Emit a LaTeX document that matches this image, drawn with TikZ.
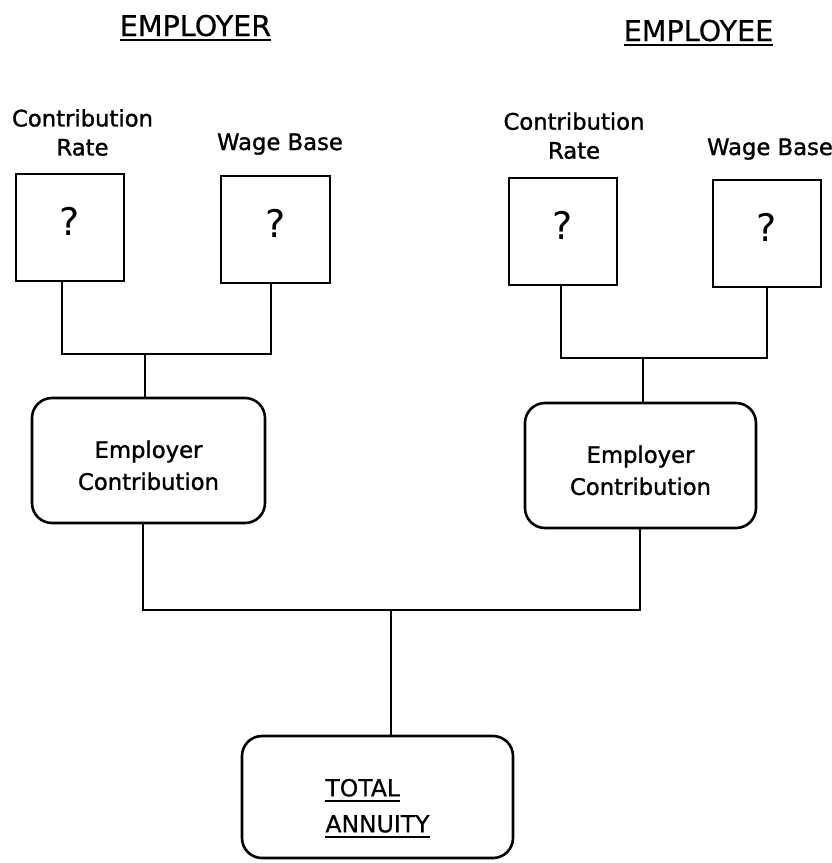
\documentclass[tikz,border=0pt]{standalone}
\usepackage{fontspec}
\setmainfont{DejaVu Sans}
\newfontfamily\lblfont{DejaVu Sans}[FakeBold=1.3]
\newfontfamily\ttlfont{DejaVu Sans}[FakeBold=0.6]
\newcommand\myul[1]{\leavevmode\vtop{\hbox{#1}\kern3pt\hrule height 2pt}}
\begin{document}
\begin{tikzpicture}[x=1pt,y=-1pt,
  sqbox/.style={draw, line width=2.6pt, minimum width=108pt, minimum height=107pt,
    inner sep=0pt, text depth=13pt, font=\fontsize{38}{38}\selectfont},
  rbox/.style={draw, line width=2.6pt, rounded corners=20pt, minimum height=125pt,
    inner sep=0pt, align=center, font=\lblfont\fontsize{22.7}{32}\selectfont},
  lbl/.style={inner sep=0pt, align=center, font=\lblfont\fontsize{22.7}{29}\selectfont},
  ttl/.style={inner sep=0pt, anchor=base, font=\ttlfont\fontsize{28.6}{30}\selectfont},
  conn/.style={line width=2.6pt}
]
\useasboundingbox (0,0) rectangle (832,863);

% titles
\node[ttl] (t1) at (195.5,36) {\myul{EMPLOYER}};
\node[ttl] (t2) at (698.5,41) {\myul{EMPLOYEE}};

% labels
\node[lbl] (l1) at (82.5,132.5) {Contribution\\Rate};
\node[lbl, anchor=base] (l2) at (280,150) {Wage Base};
\node[lbl] (l3) at (574,135.7) {Contribution\\Rate};
\node[lbl, anchor=base] (l4) at (770,155) {Wage Base};

% squares
\node[sqbox] (sq1) at (70,227.5) {?};
\node[sqbox, minimum width=109pt] (sq2) at (275.5,229.5) {?};
\node[sqbox] (sq3) at (563,231.5) {?};
\node[sqbox] (sq4) at (767,233.5) {?};

% contribution boxes
\node[rbox, minimum width=233pt] (r1) at (148.5,460.5) {\rule{0pt}{27pt}Employer\\Contribution};
\node[rbox, minimum width=231pt] (r2) at (640.5,465.5) {\rule{0pt}{27pt}Employer\\Contribution};

% total box
\node[rbox, minimum width=271pt, minimum height=122pt, align=left,
  font=\ttlfont\fontsize{23.5}{36}\selectfont] (r3) at (377.5,797)
  {\rule{0pt}{40pt}\myul{TOTAL}\\\myul{ANNUITY}};

% junction coordinates
\coordinate (h1l) at (62,354);
\coordinate (h1r) at (271,354);
\coordinate (j1) at (145,354);
\coordinate (h2l) at (561,358);
\coordinate (h2r) at (767,358);
\coordinate (j2) at (643,358);
\coordinate (b1) at (143,610);
\coordinate (b2) at (640,610);
\coordinate (j3) at (391,610);

% connectors
\draw[conn] (sq1.south -| h1l) -- (h1l) -- (h1r) -- (sq2.south -| h1r);
\draw[conn] (j1) -- (r1.north -| j1);
\draw[conn] (sq3.south -| h2l) -- (h2l) -- (h2r) -- (sq4.south -| h2r);
\draw[conn] (j2) -- (r2.north -| j2);
\draw[conn] (r1.south -| b1) -- (b1) -- (b2) -- (r2.south -| b2);
\draw[conn] (j3) -- (r3.north -| j3);
\end{tikzpicture}
\end{document}
